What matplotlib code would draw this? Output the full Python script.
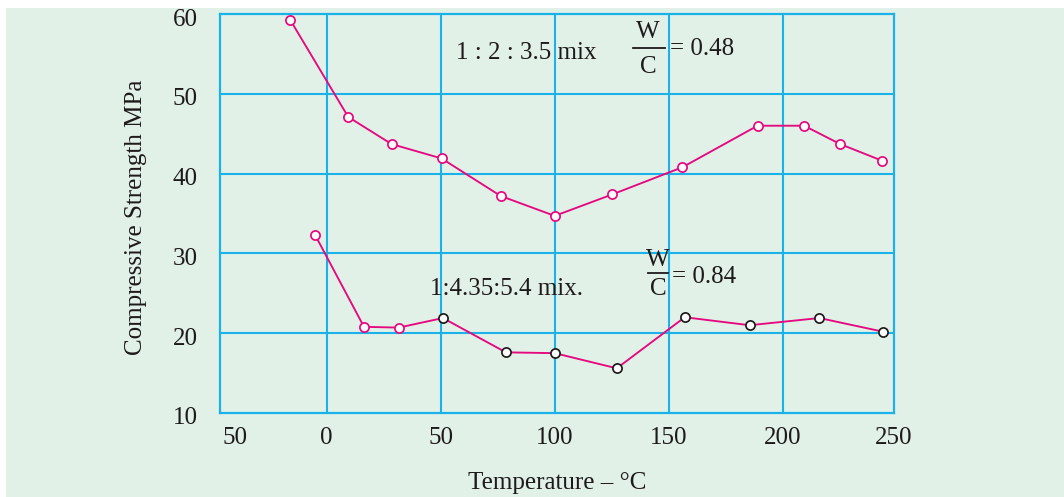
import matplotlib
matplotlib.use("Agg")
import matplotlib.pyplot as plt
import matplotlib.transforms as mtransforms
from matplotlib.patches import Rectangle

# ---- data ----
temp_rich = [-16, 9.5, 28.5, 50.4, 76.3, 100, 125.3, 156, 188.9, 209.3, 225.1, 243.6]
str_rich = [59.3, 47.1, 43.7, 41.9, 37.2, 34.7, 37.4, 40.8, 46.0, 46.0, 43.7, 41.6]

temp_lean = [-5, 16.4, 31.6, 51.0, 78.6, 100, 127.2, 157, 185.4, 216, 243.7]
str_lean = [32.3, 20.8, 20.7, 21.9, 17.6, 17.5, 15.6, 22.0, 21.0, 21.9, 20.2]
lean_pink_count = 3  # first markers drawn with pink edge

x_grid = [0, 50, 100, 150, 200]
y_grid = [20, 30, 40, 50]
x_tick_pos = [-40, 0, 50, 100, 150, 200, 248.5]
x_tick_lab = ["50", "0", "50", "100", "150", "200", "250"]
y_tick_pos = [10, 20, 30, 40, 50, 60]
y_tick_lab = ["10", "20", "30", "40", "50", "60"]

# ---- style ----
BG = "#e1f1e7"
BLUE = "#1ab2e8"
PINK = "#e5087f"
TXT = "#1e1a1b"
FONT = "Liberation Serif"
FS = 18

W, H = 1064, 497
fig = plt.figure(figsize=(W / 100, H / 100), dpi=100)
fig.patch.set_facecolor("white")
bg = Rectangle((6 / W, 0), 1 - 6 / W, 1 - 8 / H, transform=fig.transFigure,
               facecolor=BG, edgecolor="none", zorder=-10)
fig.add_artist(bg)

ax = fig.add_axes([220 / W, (H - 413) / H, (894 - 220) / W, (413 - 14) / H])
ax.set_zorder(1)
ax.set_facecolor(BG)
ax.set_xlim(-46.7, 248.7)
ax.set_ylim(10, 60)

for gx in x_grid:
    ax.axvline(gx, color=BLUE, lw=1.5, zorder=1)
for gy in y_grid:
    ax.axhline(gy, color=BLUE, lw=1.5, zorder=1)
for s in ax.spines.values():
    s.set_color(BLUE)
    s.set_linewidth(1.6)

ax.set_xticks(x_tick_pos)
ax.set_xticklabels(x_tick_lab, fontfamily=FONT, fontsize=FS, color=TXT)
ax.set_yticks(y_tick_pos)
ax.set_yticklabels(y_tick_lab, fontfamily=FONT, fontsize=FS, color=TXT)
ax.tick_params(axis="x", length=0, pad=10)
ax.tick_params(axis="y", length=0, pad=16)
shift = mtransforms.ScaledTranslation(0, -3 / 100, fig.dpi_scale_trans)
for lab in ax.get_yticklabels():
    lab.set_transform(lab.get_transform() + shift)

ms = 6.6
mew = 1.25
lw = 1.35
ax.plot(temp_rich, str_rich, color=PINK, lw=lw, zorder=3,
        marker="o", ms=ms, mfc="white", mec=PINK, mew=mew)
ax.plot(temp_lean, str_lean, color=PINK, lw=lw, zorder=3)
ax.plot(temp_lean[:lean_pink_count], str_lean[:lean_pink_count], ls="none", zorder=4,
        marker="o", ms=ms, mfc="white", mec=PINK, mew=mew)
ax.plot(temp_lean[lean_pink_count:], str_lean[lean_pink_count:], ls="none", zorder=4,
        marker="o", ms=ms, mfc="white", mec=TXT, mew=mew)

tk = dict(fontfamily=FONT, fontsize=FS, color=TXT, zorder=5)
ax.text(56.9, 55.1, "1 : 2 : 3.5 mix", ha="left", va="center", **tk)
ax.text(141.0, 57.7, "W", ha="center", va="center", **tk)
ax.text(141.0, 53.3, "C", ha="center", va="center", **tk)
ax.plot([134.2, 148.2], [55.8, 55.8], color=TXT, lw=1.3, zorder=5)
ax.text(150.5, 55.6, "= 0.48", ha="left", va="center", **tk)

ax.text(45.2, 25.6, "1:4.35:5.4 mix.", ha="left", va="center", **tk)
ax.text(145.2, 29.2, "W", ha="center", va="center", **tk)
ax.text(145.2, 25.5, "C", ha="center", va="center", **tk)
ax.plot([140.7, 149.6], [27.6, 27.6], color=TXT, lw=1.3, zorder=5)
ax.text(151.6, 27.1, "= 0.84", ha="left", va="center", **tk)

fig.text(557 / W, 1 - 483 / H, "Temperature \u2013 \u00b0C", ha="center", va="center",
         fontfamily=FONT, fontsize=FS, color=TXT)
fig.text(136 / W, 1 - 217 / H, "Compressive Strength MPa", ha="center", va="center",
         rotation=90, fontfamily=FONT, fontsize=FS, color=TXT)

fig.savefig("out.png", dpi=100, facecolor=fig.get_facecolor())
